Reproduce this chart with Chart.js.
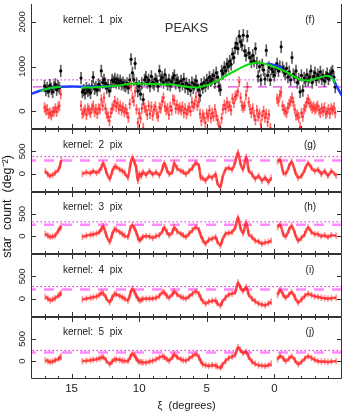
<!DOCTYPE html>
<html>
<head>
<meta charset="utf-8">
<script src="https://cdn.jsdelivr.net/npm/chart.js@4.4.1/dist/chart.umd.min.js"></script>
<style>
  html, body { margin: 0; padding: 0; background: #fff; }
  canvas { display: block; }
</style>
</head>
<body>
<canvas id="peaks" width="346" height="416"></canvas>
<script>
var FONT = '"Liberation Sans", Arial, sans-serif';

// panels, top to bottom
var panelIds = ['yf', 'yg', 'yh', 'yi', 'yj'];
var panelMin = [-400, -400, -400, -400, -400];
var panelMax = [2400, 1000, 1000, 1000, 1000];
var panelWeight = [2, 1, 1, 1, 1];
var panelTicks = [[0, 1000, 2000], [0, 500], [0, 500], [0, 500], [0, 500]];
var kernelLabels = ['kernel:  1  pix', 'kernel:  2  pix', 'kernel:  3  pix', 'kernel:  4  pix', 'kernel:  5  pix'];
var panelTags = ['(f)', '(g)', '(h)', '(i)', '(j)'];
var dottedLevel = [700, 380, 320, 270, 240];
var dashedLevel = [545, 295, 255, 205, 195];
var xTickLabels = [15, 10, 5, 0];
var titleText = 'PEAKS';
var xTitle = '\u03BE  (degrees)';
var yTitle = 'star  count  (deg\u207B\u00B2)';

// panel (f): samples every 0.1 deg from xi = 17.0 down to -4.5
var fXi = [];
for (var k = 0; k <= 215; k++) fXi.push(Math.round((17 - 0.1 * k) * 10) / 10);

var blackF = [
  560, 470, 520, 440, 580, 500, 430, 540, 600, 480, 560, 520, 900,
  null, null, null, null, null, null, null, null, null, null, null, null, null, null,
  740, 430, 470, 400,
  520, 450, 480, 410, 560, 760, 500, 540, 470, 600,
  560, 900, 640, 700, 620, 520, 580, 450, 560, 700,
  660, 720, 640, 700, 620, 680, 600, 640, 580, 560,
  620, 520, 700, 1160, 860, 700, 1070, 620, 450, 560,
  380, 620, 260, 700, 760, 640, 700, 560, 780, 640,
  600, 720, 680, 560, 900, 700, 760, 640, 820, 680,
  600, 700, 580, 660, 740, 800, 620, 700, 640, 560,
  680, 600, 720, 540, 620, 500, 580, 460, 640, 520,
  600, 680, 560, 480, 350, 600, 520, 640, 560, 700,
  620, 760, 680, 720, 800, 640, 860, 760, 560, 480,
  900, 840, 980, 900, 1060, 1000, 1120, 1050, 1280, 1200,
  1420, 1520, 1400, 1680, 1550, 1480, 1700, 1350, 1250, 1680,
  1300, 1200, 1100, 1250, 1120, 1400, 1080, 780, 1000, 700,
  1040, 920, 720, 1360, 800, 980, 700, 940, 880, 800,
  960, 1060, 900, 1000, 1440, 980, 900, 840, 960, 760,
  880, 700, 1200, 820, 760, 900, 640, 720, 430, 800,
  460, 740, 680, 820, 700, 760, 900, 640, 780, 860,
  700, 820, 760, 880, 720, 800, 680, 760, 840, 720,
  800, 860, 900, 760, 540
];
var redF = [
  80, 20, 40, -60, -40, -90, -20, 0, 60, -10, 80, 120, 380,
  null, null, null, null, null, null, null, null, null, null, null, null, null, null,
  120, -60, -20, 30,
  -80, 60, 20, -40, 60, 120, -20, 40, -60, 60,
  40, 260, 120, 300, 60, -60, -120, -220, -40, 60,
  120, 220, 100, 180, 40, 120, 20, 80, -20, 40,
  -40, -140, 160, 560, 300, 220, 440, 40, -260, -40,
  -160, 60, -380, 80, 20, -80, 120, -60, 100, -100,
  40, 100, -60, -120, 80, 60, 220, 300, 100, 20,
  60, -80, 100, 20, 260, 240, 60, 140, 40, 80,
  20, 100, -40, 60, -60, 20, 80, 0, 200, 100,
  160, 320, 120, 200, -60, -220, -80, -140, -260, -60,
  -120, 20, -160, -40, -120, 40, -100, -200, -340, -380,
  -160, 40, 140, 60, 200, 100, 120, 20, 280, 180,
  320, 360, 440, 660, 300, 120, 80, 120, 360, 540,
  200, 40, -40, 60, -100, -200, 20, -120, -60, -300,
  -100, 0, -140, -60, -240, -80, -380, null, null, null,
  null, 280, 220, 360, 420, 120, 40, 0, -40, 80,
  160, 220, 300, 200, 40, -100, -80, -140, -360, -40,
  -120, 40, 100, 200, 260, 180, 120, 60, 100, 40,
  80, 120, 20, -40, 60, 0, 80, -60, -20, 40,
  -60, 60, 20, 80, -40
];
var blackErr = 130;
var redErr = 110;
var smoothErr = 65;

// model curves in panel (f)
var greenXi = [17.3, 16.8, 16.3, 15.8, 15.0, 14.3, 13.5, 12.7, 11.5, 10.7, 10.0, 9.3, 8.5, 7.7, 7.0, 6.5, 5.8, 5.1, 4.4, 3.6, 2.9, 1.9, 1.2, 0.5, 0.0, -0.5, -1.0, -1.8, -2.5, -3.2, -3.9, -4.2, -4.5];
var greenVal = [455, 500, 530, 545, null, 530, 530, 545, 575, 615, 620, 610, 600, 595, 570, 545, 530, 570, 650, 790, 905, 1050, 1090, 1040, 990, 930, 860, 720, 685, 740, 795, 760, 640];
var blueXi = [18.0, 17.5, 17.0, 16.5, 16.0, 15.0, 14.0, 13.0, 12.0, 11.9, 0.6, 0.3, 0.0, -0.3, -0.6, -0.7, -4.0, -4.3, -4.6, -5.0];
var blueVal = [385, 440, 485, 520, 545, 550, 548, 545, 560, null, 1060, 1050, 1030, 1000, 965, null, 790, 740, 560, 340];

// smoothed residuals (g)-(j), read at the same xi positions
var smoothXi = [16.94, 16.75, 16.58, 16.4, 16.21, 15.97, 15.85, 15.77, 15.0,
  14.2, 13.9, 13.6, 13.4, 13.15, 12.95, 12.79, 12.66, 12.45, 12.18,
  12.0, 11.81, 11.69, 11.44, 11.25, 11.08, 10.83, 10.65, 10.51, 10.35,
  10.22, 10.1, 9.98, 9.85, 9.73, 9.49, 9.24, 9.0, 8.75, 8.51,
  8.26, 8.14, 7.95, 7.78, 7.53, 7.41, 7.2, 6.92, 6.75, 6.55,
  6.3, 6.06, 5.82, 5.57, 5.45, 5.3, 5.09, 4.85, 4.6, 4.35,
  4.23, 3.99, 3.86, 3.62, 3.37, 3.13, 2.89, 2.69, 2.52, 2.32,
  2.08, 1.91, 1.66, 1.42, 1.17, 0.93, 0.68, 0.44, 0.24, 0.0,
  -0.24, -0.42, -0.66, -0.83, -1.08, -1.27, -1.52, -1.76, -2.0, -2.25,
  -2.49, -2.74, -2.98, -3.23, -3.47, -3.72, -3.96, -4.21, -4.57];
var kernel2 = [60, -20, -50, -30, 20, 90, 180, 300, null,
  -10, 30, 10, 60, 20, 60, 140, 240, 60, -120,
  40, 160, 150, 90, 60, 20, -90, 200, 360, 250,
  130, -160, 0, -60, 40, -30, 60, -20, 30, -40,
  130, 240, 80, -10, 60, 240, 120, 60, 40, -10,
  60, 130, 240, 160, -90, -100, -160, -60, -90, -10,
  -190, -300, -120, 90, 130, 90, 270, 480, 240, 90,
  380, 90, -10, -120, -50, -160, -90, -190, -90, null,
  270, 310, 20, 0, 160, 270, 60, -90, -50, 90,
  240, 130, 60, 90, -10, 60, -50, 60, -50];
var kernel3 = [50, 10, -20, -10, 10, 130, 180, 220, null,
  -20, 10, 30, 40, 60, 90, 160, 220, 40, -130,
  30, 160, 140, 90, 50, 10, -20, 180, 250, 180,
  90, -20, -100, -60, -20, 0, -10, -40, 0, 20,
  130, 200, 90, 20, 100, 200, 110, 50, 20, -20,
  60, 130, 200, 130, 20, -80, -170, -80, -60, -20,
  -110, -210, -100, 50, 70, 90, 200, 420, 200, 60,
  310, 60, -20, -100, -120, -170, -140, -130, -100, null,
  200, 260, 40, -10, 140, 240, 60, -100, -40, 50,
  200, 90, 50, 40, 0, 20, -20, 20, 10];
var kernel4 = [40, 0, -40, -20, 10, 70, 100, 130, null,
  -20, 0, 20, 30, 50, 80, 130, 120, 20, -80,
  20, 110, 100, 60, 30, 0, -40, 120, 220, 150,
  70, 0, -40, -30, -10, 0, 0, 0, 20, 60,
  150, 140, 60, 20, 110, 160, 100, 40, 20, 0,
  50, 110, 160, 100, 20, -60, -110, -70, -50, -40,
  -100, -160, -80, 20, 90, 110, 150, 360, 250, 170,
  260, 100, 0, -60, -110, -130, -150, -110, -70, null,
  80, 200, 80, 20, 90, 150, 30, -90, -20, 60,
  110, 80, 50, 40, 20, 10, 0, 10, 20];
var kernel5 = [20, 0, -20, -10, 20, 50, 80, 100, null,
  0, 10, 20, 30, 40, 60, 80, 90, 20, -70,
  -10, 40, 40, 30, 10, 0, 0, 100, 170, 130,
  60, 10, -20, -20, -30, -30, -10, 10, 40, 80,
  110, 90, 40, 10, 100, 150, 90, 40, 20, 10,
  60, 110, 160, 80, 0, -70, -90, -110, -90, -100,
  -120, -150, -90, 0, 70, 100, 150, 310, 250, 180,
  210, 100, -10, -60, -90, -100, -110, -90, -60, null,
  40, 120, 60, 0, 60, 110, 20, -70, -20, 60,
  110, 70, 30, 0, -10, -10, -20, -10, 0];
var smoothPanels = [kernel2, kernel3, kernel4, kernel5];

function pts(xs, ys) {
  return xs.map(function (x, i) { return {x: x, y: ys[i]}; });
}
function errBars(xs, ys, err) {
  var out = [];
  xs.forEach(function (x, i) {
    if (ys[i] !== null) out.push({x: x, y: [ys[i] - err, ys[i] + err]});
  });
  return out;
}
function hline(v, axis, dash, color, width) {
  return {
    type: 'line', data: [{x: -5, y: v}, {x: 18, y: v}], yAxisID: axis,
    borderColor: color, borderWidth: width, borderDash: dash, pointRadius: 0, order: 9
  };
}

var datasets = [];
panelIds.forEach(function (id, p) {
  datasets.push(hline(dottedLevel[p], id, [1.5, 2.5], '#ff00ff', 1));
  if (p === 0) datasets.push(hline(dashedLevel[p], id, [9, 6], '#e040e0', 1.2));
  else datasets.push(hline(dashedLevel[p], id, [10, 8], '#ff88ff', 2.5));
});
datasets.push({
  type: 'bar', data: errBars(fXi, blackF, blackErr), yAxisID: 'yf',
  backgroundColor: 'rgba(40,40,40,0.75)', barThickness: 1, grouped: false, order: 7
});
datasets.push({
  type: 'line', data: pts(fXi, blackF), yAxisID: 'yf', showLine: false,
  pointRadius: 1.6, pointBackgroundColor: '#000', pointBorderWidth: 0, order: 6
});
datasets.push({
  type: 'bar', data: errBars(fXi, redF, redErr), yAxisID: 'yf',
  backgroundColor: 'rgba(255,50,50,0.7)', barThickness: 1, grouped: false, order: 5
});
datasets.push({
  type: 'line', data: pts(fXi, redF), yAxisID: 'yf', showLine: false,
  pointRadius: 1.2, pointBackgroundColor: '#ff3030', pointBorderWidth: 0, order: 4
});
datasets.push({
  type: 'line', data: pts(blueXi, blueVal), yAxisID: 'yf', borderColor: '#1e3cff',
  borderWidth: 2.5, pointRadius: 0, cubicInterpolationMode: 'monotone', order: 3
});
datasets.push({
  type: 'line', data: pts(greenXi, greenVal), yAxisID: 'yf', borderColor: '#10dd10',
  borderWidth: 2, pointRadius: 0, cubicInterpolationMode: 'monotone', order: 2
});
smoothPanels.forEach(function (vals, p) {
  datasets.push({
    type: 'bar', data: errBars(smoothXi, vals, smoothErr), yAxisID: panelIds[p + 1],
    backgroundColor: 'rgba(255,60,60,0.55)', barThickness: 1, grouped: false, order: 5
  });
  datasets.push({
    type: 'line', data: pts(smoothXi, vals), yAxisID: panelIds[p + 1],
    borderColor: 'rgba(255,30,30,0.8)', borderWidth: 2.6, pointRadius: 0,
    cubicInterpolationMode: 'monotone', order: 4
  });
});

var scales = {
  x: {
    type: 'linear', min: -5, max: 18, reverse: true, offset: false,
    afterBuildTicks: function (s) { s.ticks = xTickLabels.map(function (v) { return {value: v}; }); },
    afterFit: function (s) { s.height = 37; s.paddingLeft = 0; s.paddingRight = 0; },
    grid: {display: false, drawTicks: false, offset: false}, border: {display: false},
    ticks: {color: '#222', font: {family: FONT, size: 11.5}, padding: 3, maxRotation: 0, autoSkip: false},
    title: {display: true, text: xTitle, color: '#222', font: {family: FONT, size: 11}, padding: {top: 0, bottom: 3}}
  }
};
panelIds.forEach(function (id, p) {
  scales[id] = {
    type: 'linear', position: 'left', stack: 'panels', stackWeight: panelWeight[p], weight: 10 - p,
    min: panelMin[p], max: panelMax[p], beginAtZero: false,
    afterBuildTicks: function (s) { s.ticks = panelTicks[p].map(function (v) { return {value: v}; }); },
    afterFit: function (s) { s.width = 31; s.paddingTop = 0; s.paddingBottom = 0; },
    grid: {display: false, drawTicks: false}, border: {display: false},
    ticks: {
      color: '#222', font: {family: FONT, size: 9.5}, minRotation: 90, maxRotation: 90,
      crossAlign: 'center', padding: p === 0 ? -2 : 1, autoSkip: false,
      callback: function (v) { return String(v); }
    }
  };
});

// keep every dataset inside its own panel
var panelClip = {
  id: 'panelClip',
  beforeDatasetDraw: function (chart, args) {
    var xs = args.meta.xScale, ys = args.meta.yScale, ctx = chart.ctx;
    ctx.save();
    ctx.beginPath();
    ctx.rect(xs.left, ys.top, xs.width, ys.height);
    ctx.clip();
  },
  afterDatasetDraw: function (chart) { chart.ctx.restore(); }
};

// boxes with inward ticks, like the original plot (top edge of the first panel is off the page)
var panelFrame = {
  id: 'panelFrame',
  afterDatasetsDraw: function (chart) {
    var ctx = chart.ctx, xs = chart.scales.x;
    ctx.save();
    ctx.strokeStyle = '#333';
    ctx.lineWidth = 1;
    panelIds.forEach(function (id, p) {
      var ys = chart.scales[id];
      var L = Math.round(xs.left) + 0.5, R = Math.round(xs.right) - 0.5;
      var T = Math.round(ys.top) + 0.5, B = Math.round(ys.bottom) - 0.5;
      var showTop = p > 0;
      ctx.beginPath();
      ctx.moveTo(L, T - 0.5); ctx.lineTo(L, B); ctx.lineTo(R, B); ctx.lineTo(R, T - 0.5);
      if (showTop) { ctx.moveTo(L, T); ctx.lineTo(R, T); }
      for (var v = Math.ceil(xs.min) + 1; v < xs.max; v++) {
        var px = Math.round(xs.getPixelForValue(v)) + 0.5;
        var len = v % 5 === 0 ? 4.5 : 2.5;
        if (showTop) { ctx.moveTo(px, T); ctx.lineTo(px, T + len); }
        ctx.moveTo(px, B); ctx.lineTo(px, B - len);
      }
      panelTicks[p].forEach(function (v) {
        var py = Math.round(ys.getPixelForValue(v)) + 0.5;
        ctx.moveTo(L, py); ctx.lineTo(L + 4.5, py);
        ctx.moveTo(R, py); ctx.lineTo(R - 4.5, py);
      });
      ctx.stroke();
    });
    ctx.restore();
  }
};

var panelText = {
  id: 'panelText',
  afterDraw: function (chart) {
    var ctx = chart.ctx, area = chart.chartArea;
    ctx.save();
    ctx.fillStyle = '#1a1a1a';
    ctx.textBaseline = 'middle';
    ctx.font = '10px ' + FONT;
    panelIds.forEach(function (id, p) {
      var ys = chart.scales[id];
      ctx.textAlign = 'left';
      ctx.fillText(kernelLabels[p], area.left + 32, ys.top + 16);
      ctx.textAlign = 'center';
      ctx.fillText(panelTags[p], area.right - 32, ys.top + 16);
    });
    ctx.font = '13px ' + FONT;
    ctx.fillStyle = '#333';
    ctx.fillText(titleText, (area.left + area.right) / 2, chart.scales.yf.top + 24.5);
    ctx.fillStyle = '#1a1a1a';
    ctx.font = '12.5px ' + FONT;
    ctx.translate(8, area.top + area.height * 0.54);
    ctx.rotate(-Math.PI / 2);
    ctx.fillText(yTitle, 0, 0);
    ctx.restore();
  }
};

new Chart(document.getElementById('peaks'), {
  type: 'line',
  data: {datasets: datasets},
  options: {
    responsive: false,
    animation: false,
    devicePixelRatio: 1,
    events: [],
    layout: {padding: {left: 0, right: 2, top: 0, bottom: 0}},
    plugins: {legend: {display: false}, tooltip: {enabled: false}},
    scales: scales
  },
  plugins: [panelClip, panelFrame, panelText]
});
</script>
</body>
</html>
